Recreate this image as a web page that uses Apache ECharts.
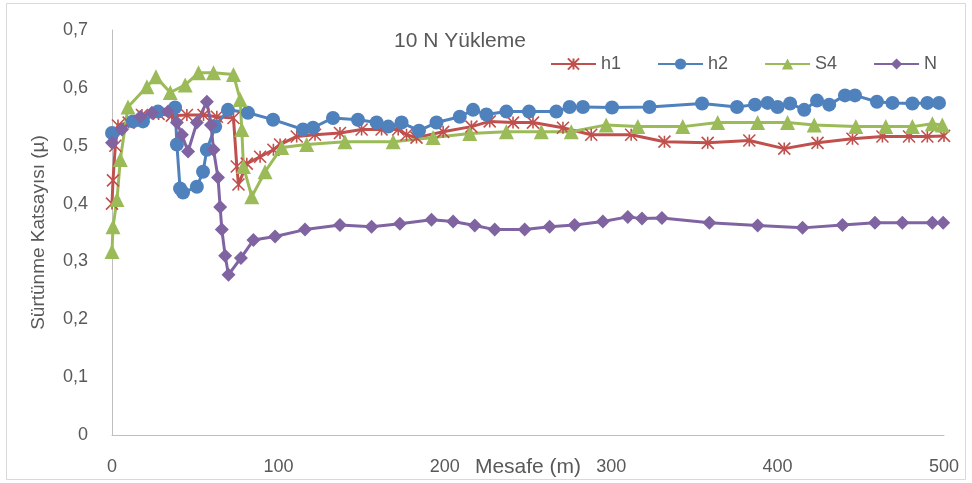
<!DOCTYPE html>
<html>
<head>
<meta charset="utf-8">
<script src="https://cdn.jsdelivr.net/npm/echarts@6/dist/echarts.min.js"></script>
<style>html,body{margin:0;padding:0;background:#fff}#c{width:972px;height:483px}</style>
</head>
<body>
<div id="c"></div>
<script>
// ---- data ----
const titleText = '10 N Yükleme';
const xName = 'Mesafe (m)';
const yName = 'Sürtünme Katsayısı (µ)';
const seriesNames = ['h1', 'h2', 'S4', 'N'];

const h1X = [0, 0.6, 2, 3.6, 10, 18, 28, 36, 45, 55, 63, 73, 75, 76, 81, 89, 97, 101, 111, 122, 137, 150, 162, 172, 177, 183, 199, 216, 227, 241, 253, 271, 288, 312, 332, 358, 383, 404, 424, 445, 463, 479, 490, 500];
const h1Y = [0.40, 0.44, 0.50, 0.535, 0.54, 0.553, 0.555, 0.552, 0.553, 0.553, 0.55, 0.548, 0.464, 0.433, 0.469, 0.481, 0.493, 0.502, 0.516, 0.519, 0.522, 0.528, 0.528, 0.528, 0.519, 0.514, 0.524, 0.533, 0.542, 0.540, 0.540, 0.531, 0.519, 0.519, 0.507, 0.505, 0.509, 0.495, 0.505, 0.512, 0.516, 0.516, 0.516, 0.517];

const h2X = [0, 12.6, 18.6, 27.6, 37.9, 39, 40.9, 42.7, 51, 54.7, 57, 62, 69.7, 81.7, 96.8, 114.8, 120.8, 132.8, 147.8, 159, 166, 174, 184.5, 195, 209, 217, 225, 237, 250.6, 267, 275, 283, 300.5, 323, 354.6, 375.6, 386.4, 394, 400, 407.5, 416, 423.7, 431, 440.5, 446.5, 459.7, 469, 481, 490, 497];
const h2Y = [0.522, 0.542, 0.542, 0.559, 0.566, 0.502, 0.426, 0.419, 0.429, 0.455, 0.493, 0.533, 0.562, 0.557, 0.545, 0.528, 0.531, 0.548, 0.545, 0.540, 0.533, 0.540, 0.526, 0.540, 0.550, 0.562, 0.554, 0.559, 0.559, 0.559, 0.567, 0.567, 0.566, 0.567, 0.573, 0.567, 0.571, 0.574, 0.567, 0.573, 0.562, 0.578, 0.571, 0.587, 0.587, 0.576, 0.574, 0.573, 0.574, 0.574];

const s4X = [0, 0.6, 3, 5, 9.6, 21, 26.4, 35, 44, 52, 61, 73, 77, 78, 79, 84, 92, 102, 117, 140, 169, 193, 215, 237, 258, 276, 297, 316, 343, 364, 388, 406, 422, 447, 465, 481, 493, 499];
const s4Y = [0.317, 0.36, 0.407, 0.476, 0.567, 0.602, 0.619, 0.592, 0.605, 0.626, 0.626, 0.623, 0.58, 0.528, 0.464, 0.412, 0.455, 0.497, 0.502, 0.507, 0.507, 0.514, 0.521, 0.524, 0.524, 0.524, 0.536, 0.533, 0.533, 0.54, 0.54, 0.54, 0.536, 0.533, 0.533, 0.533, 0.538, 0.536];

const nX = [0, 6, 17, 24, 33.7, 39, 42, 45.7, 51, 57, 59.5, 61, 63.7, 65, 66, 68, 70, 77.5, 85, 98, 116, 137, 156, 173, 192, 205, 218, 230, 248, 263, 278, 295, 310, 318.5, 330.5, 359, 388, 415, 439, 458.5, 475, 493, 499.5];
const nY = [0.505, 0.528, 0.55, 0.557, 0.559, 0.54, 0.519, 0.49, 0.54, 0.576, 0.536, 0.493, 0.445, 0.394, 0.355, 0.31, 0.277, 0.306, 0.337, 0.343, 0.355, 0.363, 0.360, 0.365, 0.372, 0.369, 0.362, 0.355, 0.355, 0.360, 0.363, 0.369, 0.377, 0.374, 0.375, 0.367, 0.362, 0.358, 0.363, 0.367, 0.367, 0.367, 0.367];

const xMin = 0, xMax = 500, xStep = 100;
const yMin = 0, yMax = 0.7, yStep = 0.1;

// ---- chart ----
const FONT = "'Liberation Sans', Arial, sans-serif";
const TXT = '#595959';
const colors = ['#C0504D', '#4F81BD', '#9BBB59', '#8064A2'];
const symbols = [
  'path://M0,0L10,10M10,0L0,10M5,0L5,10',
  'circle',
  'triangle',
  'diamond'
];
const sizes = [12, 14, 15, 14];
const xs = [h1X, h2X, s4X, nX];
const ys = [h1Y, h2Y, s4Y, nY];
const pairs = (a, b) => a.map((v, i) => [v, b[i]]);

const series = seriesNames.map((name, i) => ({
  name,
  type: 'line',
  data: pairs(xs[i], ys[i]),
  symbol: symbols[i],
  symbolSize: sizes[i],
  showSymbol: true,
  lineStyle: { color: colors[i], width: 3 },
  itemStyle: i === 0
    ? { color: colors[i], borderColor: colors[i], borderWidth: 1.6 }
    : { color: colors[i], borderWidth: 0 },
  emphasis: { disabled: true },
  animation: false
}));

const chart = echarts.init(document.getElementById('c'), null, { renderer: 'canvas' });
chart.setOption({
  animation: false,
  color: colors,
  textStyle: { fontFamily: FONT },
  title: {
    text: titleText,
    left: 455, top: 26, textAlign: 'center',
    textStyle: { fontFamily: FONT, fontSize: 21, fontWeight: 'normal', color: TXT }
  },
  legend: {
    data: seriesNames,
    left: 545, top: 50,
    itemWidth: 45, itemHeight: 14, itemGap: 36,
    textStyle: { fontFamily: FONT, fontSize: 18, color: TXT }
  },
  grid: { left: 112, right: 28, top: 30, bottom: 48, containLabel: false, outerBoundsMode: 'none' },
  xAxis: {
    type: 'value', min: xMin, max: xMax, interval: xStep,
    name: xName, nameLocation: 'middle', nameGap: 22, nameMoveOverlap: false,
    nameTextStyle: { fontFamily: FONT, fontSize: 21, color: TXT },
    axisLine: { show: true, onZero: false, lineStyle: { color: '#BFBFBF', width: 1 } },
    axisTick: { show: false },
    axisLabel: { fontFamily: FONT, fontSize: 18, color: TXT, margin: 23 },
    splitLine: { show: false }
  },
  yAxis: {
    type: 'value', min: yMin, max: yMax, interval: yStep,
    name: yName, nameLocation: 'middle', nameGap: 64, nameRotate: 90, nameMoveOverlap: false,
    nameTextStyle: { fontFamily: FONT, fontSize: 19, color: TXT },
    axisLine: { show: true, lineStyle: { color: '#BFBFBF', width: 1 } },
    axisTick: { show: false },
    axisLabel: {
      fontFamily: FONT, fontSize: 18, color: TXT, margin: 24,
      formatter: v => v === 0 ? '0' : v.toFixed(1).replace('.', ',')
    },
    splitLine: { show: false }
  },
  graphic: [{
    type: 'rect', silent: true, z: -1,
    shape: { x: 6.5, y: 3.5, width: 959, height: 476 },
    style: { fill: 'none', stroke: '#D9D9D9', lineWidth: 1 }
  }],
  series
});
</script>
</body>
</html>
